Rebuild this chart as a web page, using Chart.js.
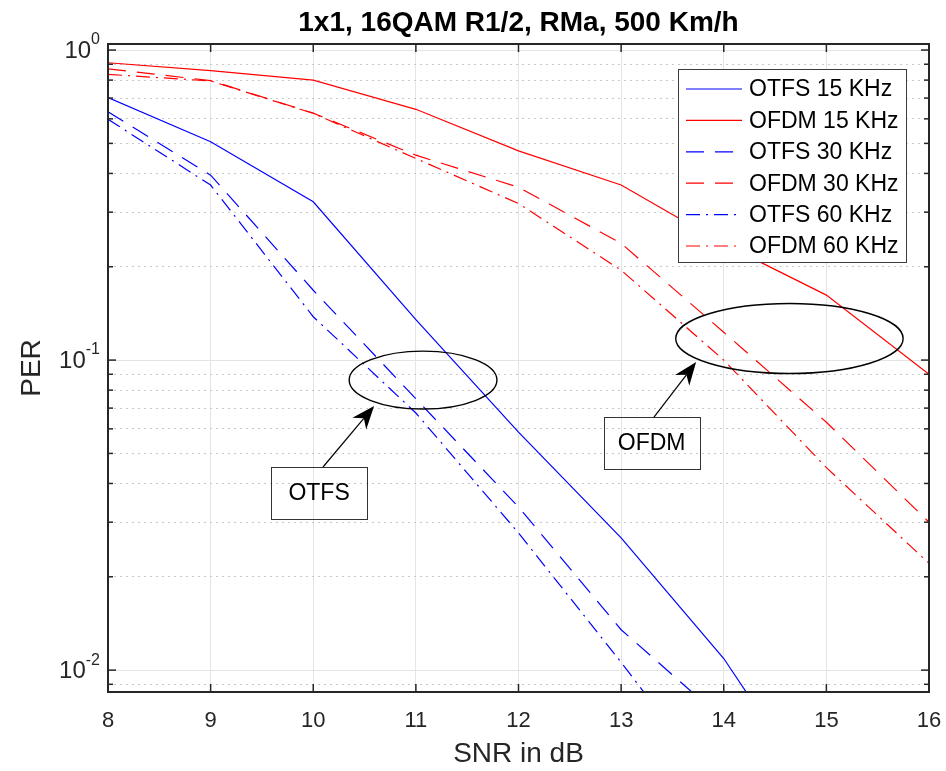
<!DOCTYPE html>
<html>
<head>
<meta charset="utf-8">
<script src="https://cdn.jsdelivr.net/npm/chart.js@4.4.0/dist/chart.umd.min.js"></script>
<style>
  html, body { margin: 0; padding: 0; background: #fff; }
  #wrap { width: 946px; height: 771px; }
</style>
</head>
<body>
<div id="wrap"><canvas id="per" width="946" height="771"></canvas></div>
<script>
// SNR points on the x-axis
const snr = [8, 9, 10, 11, 12, 13, 14, 15, 16];
// PER (null = below the plotted range)
const otfs15 = [0.703, 0.506, 0.324, 0.135, 0.0586, 0.0267, 0.0109, 0.0035, null];
const ofdm15 = [0.91, 0.858, 0.80, 0.644, 0.473, 0.367, 0.237, 0.162, 0.090];
const otfs30 = [0.632, 0.395, 0.168, 0.075, 0.0336, 0.0135, 0.0069, null, null];
const ofdm30 = [0.87, 0.797, 0.626, 0.458, 0.361, 0.238, 0.123, 0.063, 0.030];
const otfs60 = [0.598, 0.367, 0.138, 0.0675, 0.0277, 0.0106, 0.0039, null, null];
const ofdm60 = [0.835, 0.795, 0.625, 0.447, 0.320, 0.195, 0.100, 0.045, 0.0221];
// log axis ticks (decades get a label, the rest are minor)
const yTicks = [0.009, 0.01, 0.02, 0.03, 0.04, 0.05, 0.06, 0.07, 0.08, 0.09,
  0.1, 0.2, 0.3, 0.4, 0.5, 0.6, 0.7, 0.8, 0.9, 1];
const title = '1x1, 16QAM R1/2, RMa, 500 Km/h';

const FONT = '"Liberation Sans", Arial, Helvetica, sans-serif';
Chart.defaults.font.family = FONT;

const isDecade = v => Math.abs(Math.log10(v) - Math.round(Math.log10(v))) < 1e-6;

const DASH = [18, 11];
const DASHDOT = [14, 6, 2, 6];
const series = [
  { label: 'OTFS 15 KHz', values: otfs15, color: '#0000ff', dash: [] },
  { label: 'OFDM 15 KHz', values: ofdm15, color: '#ff0000', dash: [] },
  { label: 'OTFS 30 KHz', values: otfs30, color: '#0000ff', dash: DASH },
  { label: 'OFDM 30 KHz', values: ofdm30, color: '#ff0000', dash: DASH },
  { label: 'OTFS 60 KHz', values: otfs60, color: '#0000ff', dash: DASHDOT },
  { label: 'OFDM 60 KHz', values: ofdm60, color: '#ff0000', dash: DASHDOT }
];

// ellipse + text box + arrow callouts, placed in data coordinates
const callouts = [
  { text: 'OTFS', ex: 11.07, ey: 0.0862, rx: 0.72, ry: 0.0935,
    bx: 10.057, by: 0.0374, tail: [10.095, 0.0452], tip: [10.593, 0.0711] },
  { text: 'OFDM', ex: 14.64, ey: 0.1174, rx: 1.108, ry: 0.113,
    bx: 13.297, by: 0.054, tail: [13.32, 0.0655], tip: [13.731, 0.0985] }
];

function seg(ctx, x1, y1, x2, y2) {
  ctx.beginPath();
  ctx.moveTo(x1, y1);
  ctx.lineTo(x2, y2);
  ctx.stroke();
}

const matlabFrame = {
  id: 'matlabFrame',
  afterDraw(chart) {
    const { ctx, chartArea: a, scales: { x, y } } = chart;
    ctx.save();

    // title centred over the axes
    ctx.fillStyle = '#000';
    ctx.font = 'bold 28px ' + FONT;
    ctx.textAlign = 'center';
    ctx.textBaseline = 'middle';
    ctx.fillText(title, (a.left + a.right) / 2, 23);

    // inward ticks on all four sides
    ctx.strokeStyle = '#262626';
    ctx.lineWidth = 1.5;
    snr.forEach(v => {
      const px = x.getPixelForValue(v);
      seg(ctx, px, a.bottom, px, a.bottom - 8);
      seg(ctx, px, a.top, px, a.top + 8);
    });
    yTicks.forEach(v => {
      const py = y.getPixelForValue(v);
      const len = isDecade(v) ? 8 : 5;
      seg(ctx, a.left, py, a.left + len, py);
      seg(ctx, a.right, py, a.right - len, py);
    });

    // box
    ctx.lineWidth = 2;
    ctx.strokeRect(a.left, a.top, a.right - a.left, a.bottom - a.top);

    // y labels 10^n
    ctx.fillStyle = '#262626';
    ctx.textAlign = 'right';
    yTicks.filter(isDecade).forEach(v => {
      const py = y.getPixelForValue(v);
      const ex = String(Math.round(Math.log10(v)));
      const right = a.left - 8;
      ctx.font = '16px ' + FONT;
      const w = ctx.measureText(ex).width;
      ctx.fillText(ex, right, py - 10);
      ctx.font = '24px ' + FONT;
      ctx.fillText('10', right - w, py + 1);
    });

    // callouts
    ctx.strokeStyle = '#000';
    ctx.fillStyle = '#000';
    callouts.forEach(c => {
      const cx = x.getPixelForValue(c.ex);
      const cy = y.getPixelForValue(c.ey);
      const rx = x.getPixelForValue(c.ex + c.rx) - cx;
      const ry = y.getPixelForValue(c.ey * Math.pow(10, -c.ry)) - cy;
      ctx.lineWidth = 1.4;
      ctx.beginPath();
      ctx.ellipse(cx, cy, rx, ry, 0, 0, Math.PI * 2);
      ctx.stroke();

      const bx = x.getPixelForValue(c.bx);
      const by = y.getPixelForValue(c.by);
      ctx.lineWidth = 1;
      ctx.strokeStyle = '#333';
      ctx.strokeRect(Math.round(bx - 48) + 0.5, Math.round(by - 26) + 0.5, 96, 52);
      ctx.font = '23px ' + FONT;
      ctx.textAlign = 'center';
      ctx.fillText(c.text, bx, by + 1);

      const tx = x.getPixelForValue(c.tail[0]), ty = y.getPixelForValue(c.tail[1]);
      const hx = x.getPixelForValue(c.tip[0]), hy = y.getPixelForValue(c.tip[1]);
      const len = Math.hypot(hx - tx, hy - ty);
      const ux = (hx - tx) / len, uy = (hy - ty) / len;
      const nx = -uy, ny = ux;
      const L = 23, W = 9, notch = 7;
      ctx.strokeStyle = '#000';
      ctx.lineWidth = 1.2;
      seg(ctx, tx, ty, hx - ux * (L - notch), hy - uy * (L - notch));
      ctx.beginPath();
      ctx.moveTo(hx, hy);
      ctx.lineTo(hx - ux * L + nx * W, hy - uy * L + ny * W);
      ctx.lineTo(hx - ux * (L - notch), hy - uy * (L - notch));
      ctx.lineTo(hx - ux * L - nx * W, hy - uy * L - ny * W);
      ctx.closePath();
      ctx.fill();
    });

    // legend box, top right inside the axes
    const lx = a.right - 251, ly = a.top + 25, lw = 228, lh = 193;
    ctx.setLineDash([]);
    ctx.fillStyle = '#fff';
    ctx.fillRect(lx, ly, lw, lh);
    ctx.strokeStyle = '#3c3c3c';
    ctx.lineWidth = 1;
    ctx.strokeRect(lx + 0.5, ly + 0.5, lw, lh);
    ctx.textAlign = 'left';
    chart.data.datasets.forEach((ds, i) => {
      const cy = ly + 20 + i * 31.4;
      ctx.strokeStyle = ds.borderColor;
      ctx.lineWidth = ds.borderWidth;
      ctx.setLineDash(ds.borderDash);
      seg(ctx, lx + 8, cy, lx + 64, cy);
      ctx.setLineDash([]);
      ctx.fillStyle = '#000';
      ctx.font = '23px ' + FONT;
      ctx.fillText(ds.label, lx + 71, cy + 1);
    });

    ctx.restore();
  }
};

const ctx = document.getElementById('per');
if (ctx) {
  const perChart = new Chart(ctx, {
    type: 'line',
    data: {
      datasets: series.map(s => ({
        label: s.label,
        data: snr.map((v, i) => ({ x: v, y: s.values[i] })),
        borderColor: s.color,
        borderWidth: 1.2,
        borderDash: s.dash,
        pointRadius: 0,
        fill: false,
        tension: 0
      }))
    },
    options: {
      responsive: false,
      animation: false,
      layout: { padding: { top: 44, right: 17, bottom: 0, left: 0 } },
      plugins: {
        legend: { display: false },
        tooltip: { enabled: false },
        title: { display: false }
      },
      scales: {
        x: {
          type: 'linear',
          min: 8,
          max: 16,
          ticks: { stepSize: 1, color: '#262626', font: { size: 22 }, padding: 16 },
          grid: { color: '#e4e4e4', lineWidth: 1, drawTicks: false },
          border: { display: false },
          title: {
            display: true,
            text: 'SNR in dB',
            color: '#262626',
            font: { size: 28 },
            padding: { top: 0, bottom: 0 }
          },
          afterFit: s => {
            s.height = 79;
            s.paddingLeft = 0;
            s.paddingRight = 0;
          }
        },
        y: {
          type: 'logarithmic',
          min: 0.0085,
          max: 1.046,
          afterBuildTicks: s => { s.ticks = yTicks.map(v => ({ value: v })); },
          ticks: { display: false },
          grid: {
            color: c => (c.tick && !isDecade(c.tick.value)) ? '#c9c9c9' : '#e4e4e4',
            lineWidth: 1,
            drawTicks: false
          },
          border: {
            display: false,
            dash: c => (c.tick && !isDecade(c.tick.value)) ? [2, 4] : []
          },
          title: {
            display: true,
            text: 'PER',
            color: '#262626',
            font: { size: 28 },
            padding: { top: 15, bottom: 0 }
          },
          afterFit: s => { s.width = 108; }
        }
      }
    },
    plugins: [matlabFrame]
  });
}
</script>
</body>
</html>
